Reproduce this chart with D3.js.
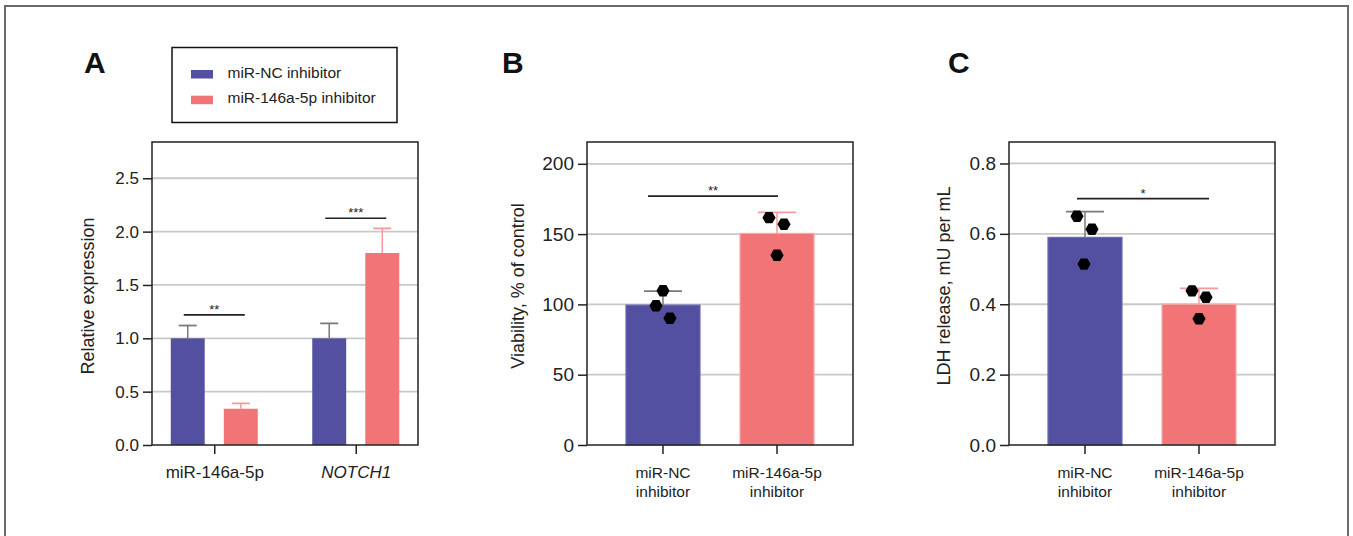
<!DOCTYPE html>
<html>
<head>
<meta charset="utf-8">
<script src="https://cdn.jsdelivr.net/npm/d3@7"></script>
<style>
  body { margin: 0; background: #fff; }
  svg { display: block; font-family: "Liberation Sans", Arial, Helvetica, sans-serif; }
</style>
</head>
<body>
<svg id="fig" width="1353" height="536"></svg>
<script>
// ---- data ----
const seriesNames = ["miR-NC inhibitor", "miR-146a-5p inhibitor"]
const seriesColors = ["#5450a1", "#f17477"]

// panel A: relative expression, grouped bars
const exprGenes = ["miR-146a-5p", "NOTCH1"]
const exprMeans = [[1.0, 0.34], [1.0, 1.80]]
const exprErrors = [[0.12, 0.05], [0.14, 0.23]]
const exprTicks = [0, 0.5, 1.0, 1.5, 2.0, 2.5]
const exprStars = ["**", "***"]
const exprStarLevels = [1.22, 2.125]

// panel B: viability
const groupLabels = [["miR-NC", "inhibitor"], ["miR-146a-5p", "inhibitor"]]
const viabilityMeans = [99.5, 150.5]
const viabilityErrors = [10, 15]
const viabilityPoints = [[109.7, 99.1, 90.1], [161.7, 157, 135]]
const viabilityTicks = [0, 50, 100, 150, 200]
const viabilityStar = "**"
const viabilityStarLevel = 177

// panel C: LDH release
const ldhMeans = [0.59, 0.40]
const ldhErrors = [0.073, 0.045]
const ldhPoints = [[0.65, 0.613, 0.514], [0.438, 0.42, 0.359]]
const ldhTicks = [0, 0.2, 0.4, 0.6, 0.8]
const ldhStar = "*"
const ldhStarLevel = 0.70

// ---- layout ----
const svg = d3.select("#fig")
const errColors = ["#7a7a7a", "#f49a9c"]
const edgeColors = ["#6b67b8", "#f7a9ab"]

svg.append("path")
    .attr("d", "M5,536 V6 H1348 V536")
    .attr("fill", "none")
    .attr("stroke", "#6a6a6a")
    .attr("stroke-width", 2)

function hexPath(cx, cy, r) {
  const pts = d3.range(6).map(i => {
    const a = Math.PI / 3 * i
    return [cx + r * Math.cos(a), cy + r * Math.sin(a)]
  })
  return "M" + pts.map(p => p.join(",")).join("L") + "Z"
}

function panelFrame(box, y, ticks, fmt, fontSize) {
  const g = svg.append("g")

  g.append("g")
      .selectAll("line")
      .data(ticks.filter(t => t > 0))
      .join("line")
      .attr("x1", box.left)
      .attr("x2", box.right)
      .attr("y1", d => y(d))
      .attr("y2", d => y(d))
      .attr("stroke", "#c9c9c9")
      .attr("stroke-width", 1.8)

  const yAxis = g.append("g")
      .attr("transform", `translate(${box.left},0)`)
      .call(d3.axisLeft(y).tickValues(ticks).tickFormat(fmt).tickSize(9).tickPadding(4))
  yAxis.select(".domain").remove()
  yAxis.selectAll("line").attr("stroke", "#222").attr("stroke-width", 1.5)
  yAxis.selectAll("text")
      .attr("font-size", fontSize)
      .attr("font-family", "Liberation Sans, Arial, sans-serif")
      .attr("fill", "#222")
  return g
}

function drawBox(g, box) {
  g.append("rect")
      .attr("x", box.left)
      .attr("y", box.top)
      .attr("width", box.right - box.left)
      .attr("height", box.bottom - box.top)
      .attr("fill", "none")
      .attr("stroke", "#222")
      .attr("stroke-width", 1.5)
}

function yTitle(g, text, x, cy) {
  g.append("text")
      .attr("transform", `translate(${x},${cy}) rotate(-90)`)
      .attr("text-anchor", "middle")
      .attr("font-size", 18)
      .attr("fill", "#222")
      .text(text)
}

function panelLetter(text, x) {
  svg.append("text")
      .attr("x", x)
      .attr("y", 73)
      .attr("font-size", 30)
      .attr("font-weight", "bold")
      .attr("fill", "#111")
      .text(text)
}

function errorBar(g, cx, yTop, yBase, half, color) {
  g.append("line")
      .attr("x1", cx).attr("x2", cx)
      .attr("y1", yBase).attr("y2", yTop)
      .attr("stroke", color).attr("stroke-width", 1.5)
  g.append("line")
      .attr("x1", cx - half).attr("x2", cx + half)
      .attr("y1", yTop).attr("y2", yTop)
      .attr("stroke", color).attr("stroke-width", 1.8)
}

function sigMark(g, x1, x2, yy, label, size) {
  g.append("line")
      .attr("x1", x1).attr("x2", x2)
      .attr("y1", yy).attr("y2", yy)
      .attr("stroke", "#222").attr("stroke-width", 1.6)
  g.append("text")
      .attr("x", (x1 + x2) / 2)
      .attr("y", yy - 1)
      .attr("text-anchor", "middle")
      .attr("font-size", size)
      .attr("fill", "#222")
      .text(label)
}

// ---- panel A ----
{
  const box = { left: 152, right: 418, top: 142, bottom: 445 }
  const y = d3.scaleLinear().domain([0, 2.84]).range([box.bottom, box.top])
  const x0 = d3.scalePoint().domain(exprGenes).range([box.left, box.right]).padding(0.44)
  const x1 = d3.scaleBand().domain([0, 1]).range([-43.5, 43.5]).paddingInner(0.36)

  const g = panelFrame(box, y, exprTicks, d3.format(".1f"), 17)

  const groups = g.selectAll("g.gene")
      .data(exprGenes)
      .join("g")
      .attr("class", "gene")
      .attr("transform", d => `translate(${x0(d)},0)`)

  groups.selectAll("rect")
      .data((d, i) => exprMeans[i].map((v, s) => ({ v, s })))
      .join("rect")
      .attr("x", d => x1(d.s))
      .attr("width", x1.bandwidth())
      .attr("y", d => y(d.v))
      .attr("height", d => y(0) - y(d.v))
      .attr("fill", d => seriesColors[d.s])

  exprGenes.forEach((gene, i) => {
    exprMeans[i].forEach((v, s) => {
      const cx = x0(gene) + x1(s) + x1.bandwidth() / 2
      errorBar(g, cx, y(v + exprErrors[i][s]), y(v), 9, errColors[s])
    })
    const a = x0(gene) + x1(0) + x1.bandwidth() / 2 - 4
    const b = x0(gene) + x1(1) + x1.bandwidth() / 2 + 4
    sigMark(g, a, b, y(exprStarLevels[i]), exprStars[i], 13)
  })

  drawBox(g, box)

  const xAxis = g.append("g")
      .attr("transform", `translate(0,${box.bottom})`)
      .call(d3.axisBottom(x0).tickSize(9).tickFormat(""))
  xAxis.select(".domain").remove()
  xAxis.selectAll("line").attr("stroke", "#222").attr("stroke-width", 1.5)
  xAxis.selectAll(".tick").append("text")
      .attr("y", 33)
      .attr("text-anchor", "middle")
      .attr("font-size", 17)
      .attr("fill", "#222")
      .attr("font-style", d => d === "NOTCH1" ? "italic" : "normal")
      .text(d => d)

  yTitle(g, "Relative expression", 94, 296)
  panelLetter("A", 84)

  // legend
  const lg = svg.append("g")
  lg.append("rect")
      .attr("x", 172).attr("y", 47.5)
      .attr("width", 225).attr("height", 75)
      .attr("fill", "none").attr("stroke", "#111").attr("stroke-width", 1.5)
  seriesNames.forEach((name, s) => {
    lg.append("rect")
        .attr("x", 191).attr("y", 70 + s * 25.7)
        .attr("width", 22).attr("height", 8.5)
        .attr("fill", seriesColors[s])
    lg.append("text")
        .attr("x", 227.5).attr("y", 77.5 + s * 25.7)
        .attr("font-size", 15.5)
        .attr("fill", "#222")
        .text(name)
  })
}

// ---- panels B and C ----
function dotPanel(cfg) {
  const box = { left: cfg.left, right: cfg.left + 266, top: 142, bottom: 445 }
  const y = d3.scaleLinear().domain([0, cfg.max]).range([box.bottom, box.top])
  const x = d3.scaleBand().domain([0, 1]).range([box.left, box.right])
      .paddingInner(0.351).paddingOuter(0.342)

  const g = panelFrame(box, y, cfg.ticks, cfg.fmt, 19)

  g.selectAll("rect.bar")
      .data(cfg.means)
      .join("rect")
      .attr("class", "bar")
      .attr("x", (d, i) => x(i))
      .attr("width", x.bandwidth())
      .attr("y", d => y(d))
      .attr("height", d => y(0) - y(d))
      .attr("fill", (d, i) => seriesColors[i])
      .attr("stroke", (d, i) => edgeColors[i])
      .attr("stroke-width", 1.2)

  cfg.means.forEach((m, i) => {
    const cx = x(i) + x.bandwidth() / 2
    errorBar(g, cx, y(m + cfg.errors[i]), y(m), 19, errColors[i])
  })

  const pts = cfg.points.flatMap((arr, i) => arr.map((v, k) => ({ i, v, dx: cfg.jitter[i][k] })))
  g.selectAll("path.pt")
      .data(pts)
      .join("path")
      .attr("class", "pt")
      .attr("d", d => hexPath(x(d.i) + x.bandwidth() / 2 + d.dx, y(d.v), 6.6))
      .attr("fill", "#000")

  const c0 = x(0) + x.bandwidth() / 2
  const c1 = x(1) + x.bandwidth() / 2
  sigMark(g, c0 + cfg.sigDx[0], c1 + cfg.sigDx[1], y(cfg.starLevel), cfg.star, 13)

  drawBox(g, box)

  const xAxis = g.append("g")
      .attr("transform", `translate(0,${box.bottom})`)
      .call(d3.axisBottom(x).tickSize(9).tickFormat(""))
  xAxis.select(".domain").remove()
  xAxis.selectAll("line").attr("stroke", "#222").attr("stroke-width", 1.5)
  const lbl = xAxis.selectAll(".tick").append("text")
      .attr("text-anchor", "middle")
      .attr("font-size", 15.5)
      .attr("fill", "#222")
  lbl.selectAll("tspan")
      .data(d => groupLabels[d])
      .join("tspan")
      .attr("x", 0)
      .attr("y", (d, k) => 33 + k * 18.5)
      .text(d => d)

  yTitle(g, cfg.title, cfg.titleX, 286)
  panelLetter(cfg.letter, cfg.letterX)
}

dotPanel({
  left: 587, max: 215.5, ticks: viabilityTicks, fmt: d3.format("d"),
  means: viabilityMeans, errors: viabilityErrors, points: viabilityPoints,
  jitter: [[0, -7, 7], [-8, 7, 0]], sigDx: [-15, 1],
  star: viabilityStar, starLevel: viabilityStarLevel,
  title: "Viability, % of control", titleX: 524, letter: "B", letterX: 502
})

dotPanel({
  left: 1009, max: 0.861, ticks: ldhTicks, fmt: d3.format(".1f"),
  means: ldhMeans, errors: ldhErrors, points: ldhPoints,
  jitter: [[-8, 7, -1], [-7, 7, 0]], sigDx: [-8, 10],
  star: ldhStar, starLevel: ldhStarLevel,
  title: "LDH release, mU per mL", titleX: 950, letter: "C", letterX: 948
})
</script>
</body>
</html>
